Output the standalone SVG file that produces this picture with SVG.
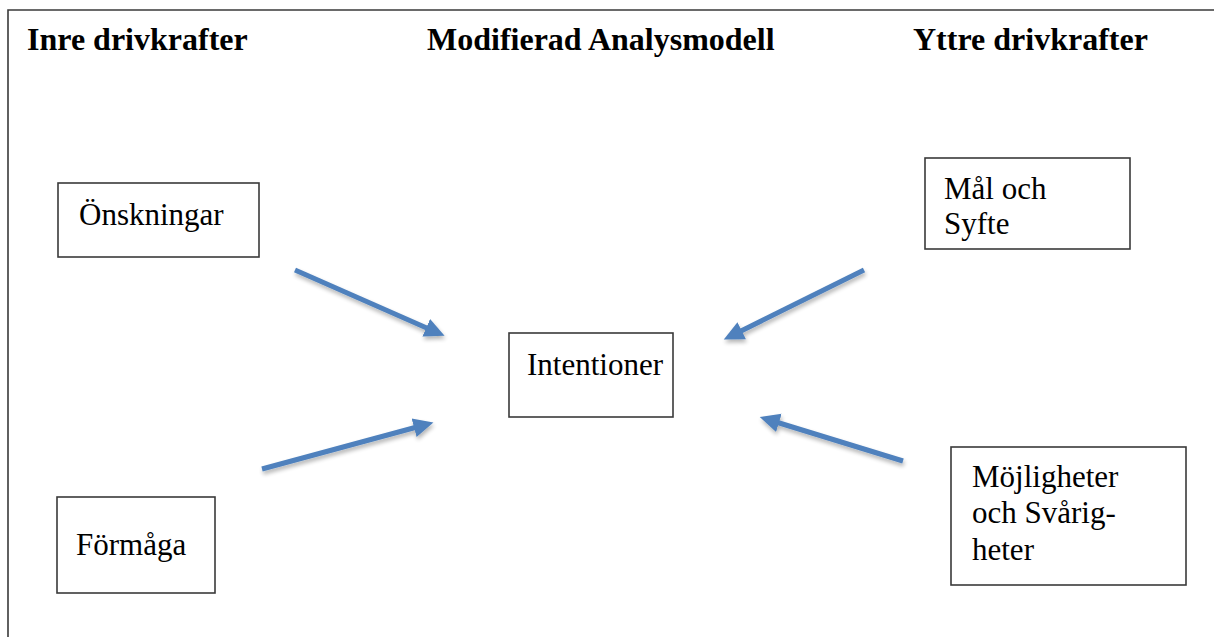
<svg xmlns="http://www.w3.org/2000/svg" width="1214" height="637" viewBox="0 0 1214 637">
<style>
.title{font-family:"Liberation Serif","Times New Roman",serif;font-weight:bold;font-size:32px;fill:#000}
.lbl{font-family:"Liberation Serif","Times New Roman",serif;font-size:31px;fill:#000}
.box{fill:#fff;stroke:#3a3a3a;stroke-width:1.6}
.arr{stroke:#4F81BD;stroke-width:5;fill:none;marker-end:url(#ah);filter:url(#sh)}
</style>
<defs>
<marker id="ah" markerUnits="userSpaceOnUse" markerWidth="24" markerHeight="22" viewBox="0 0 24 22" refX="3" refY="11" orient="auto">
<path d="M0,1.5 L20,11 L0,20.5 Z" fill="#4F81BD"/>
</marker>
<filter id="sh" x="-20%" y="-50%" width="140%" height="200%">
<feGaussianBlur in="SourceAlpha" stdDeviation="2"/>
<feOffset dx="1" dy="3" result="b"/>
<feComponentTransfer><feFuncA type="linear" slope="0.3"/></feComponentTransfer>
<feMerge><feMergeNode/><feMergeNode in="SourceGraphic"/></feMerge>
</filter>
</defs>
<rect width="1214" height="637" fill="#fff"/>
<g id="frame" stroke="#3a3a3a" stroke-width="1.6" fill="none">
<path d="M8,637 L8,10 L1214,10"/>
</g>
<g id="titles">
<text class="title" x="27" y="50">Inre drivkrafter</text>
<text class="title" x="427" y="50">Modifierad Analysmodell</text>
<text class="title" x="913" y="50">Yttre drivkrafter</text>
</g>
<g id="n-onskningar">
<rect class="box" x="58" y="183" width="201" height="74"/>
<text class="lbl" x="79" y="225">Önskningar</text>
</g>
<g id="n-formaga">
<rect class="box" x="57" y="497" width="158" height="96"/>
<text class="lbl" x="76" y="555">Förmåga</text>
</g>
<g id="n-intentioner">
<rect class="box" x="509" y="333" width="164" height="84"/>
<text class="lbl" x="527" y="375">Intentioner</text>
</g>
<g id="n-mal">
<rect class="box" x="925" y="158" width="205" height="91"/>
<text class="lbl" x="944" y="199">Mål och</text>
<text class="lbl" x="944" y="234">Syfte</text>
</g>
<g id="n-mojligheter">
<rect class="box" x="951" y="447" width="235" height="138"/>
<text class="lbl" x="972" y="487">Möjligheter</text>
<text class="lbl" x="972" y="523">och Svårig-</text>
<text class="lbl" x="972" y="560">heter</text>
</g>
<g id="connectors">
<line class="arr" x1="295" y1="270" x2="429" y2="329"/>
<line class="arr" x1="262" y1="469" x2="417" y2="427"/>
<line class="arr" x1="864" y1="270" x2="739" y2="332"/>
<line class="arr" x1="903" y1="461" x2="776" y2="422"/>
</g>
</svg>
